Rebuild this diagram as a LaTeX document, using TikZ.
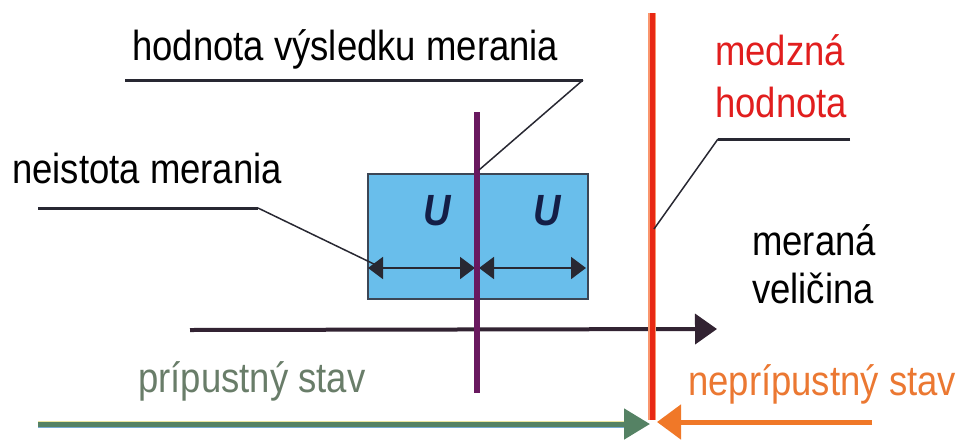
\documentclass[tikz,border=0pt]{standalone}
\usepackage{fontspec}
\setmainfont{Liberation Sans}
\usetikzlibrary{arrows.meta}
\newcommand{\vst}[1]{\scalebox{1}[1.15]{#1}}
\definecolor{boxblue}{RGB}{105,190,235}
\definecolor{boxedge}{RGB}{60,70,85}
\definecolor{ulabel}{RGB}{20,30,70}
\definecolor{leader}{RGB}{40,40,50}
\definecolor{axiscol}{RGB}{50,35,50}
\definecolor{purplecol}{RGB}{105,25,95}
\definecolor{redcol}{RGB}{232,40,20}
\definecolor{rededge}{RGB}{250,150,110}
\definecolor{redtext}{RGB}{225,30,30}
\definecolor{orangecol}{RGB}{240,120,40}
\definecolor{orangetext}{RGB}{235,120,50}
\definecolor{greencol}{RGB}{85,130,100}
\definecolor{greentext}{RGB}{105,125,105}
\definecolor{paleyellow}{RGB}{235,230,160}
\definecolor{paleblue}{RGB}{120,170,210}
\tikzset{
  lbl/.style={inner sep=0pt, anchor=base west, font=\fontsize{36.5}{40}\selectfont},
  ulbl/.style={inner sep=0pt, anchor=base, text=ulabel, font=\fontsize{38}{40}\selectfont\bfseries\itshape},
  leaderh/.style={draw=leader, line width=3pt},
  leaderd/.style={draw=leader, line width=1.5pt},
  dimarrow/.style={draw=leader, line width=2pt, {Triangle[length=15pt,width=22pt]}-{Triangle[length=15pt,width=22pt]}},
}
\begin{document}
\begin{tikzpicture}[x=1pt,y=-1pt]
\useasboundingbox (0,0) rectangle (964,440);
% uncertainty box
\node[draw=boxedge, line width=2pt, fill=boxblue, minimum width=220pt, minimum height=125pt, inner sep=0pt, anchor=north west] (box) at (367,173) {};
\node[ulbl] (u1) at (437,225) {\vst{U}};
\node[ulbl] (u2) at (547,225) {\vst{U}};
\coordinate (aL) at (368,268);
\coordinate (aM1) at (475,268);
\coordinate (aM2) at (479,268);
\coordinate (aR) at (586,268);
\draw[dimarrow] (aL) -- (aM1);
\draw[dimarrow] (aM2) -- (aR);
% measured quantity axis
\coordinate (ax0) at (190,330);
\coordinate (ax1) at (717,329);
\draw[draw=axiscol, line width=4pt, -{Triangle[length=22pt,width=30pt]}] (ax0) -- (ax1);
% result value line
\coordinate (pTop) at (477,112);
\coordinate (pBot) at (477,393);
\draw[purplecol, line width=6.5pt] (pTop) -- (pBot);
% limit value line
\coordinate (rTop) at (652,13);
\coordinate (rBot) at (652,420);
\draw[rededge, line width=8pt] (rTop) -- (rBot);
\draw[redcol, line width=5pt] (rTop) -- (rBot);
% labels
\node[lbl] (hvm) at (132,60) {\vst{hodnota výsledku merania}};
\node[lbl] (nm) at (12,183) {\vst{neistota merania}};
\node[lbl, text=redtext] (mz1) at (715,65) {\vst{medzná}};
\node[lbl, text=redtext] (mz2) at (715,117) {\vst{hodnota}};
\node[lbl] (mv1) at (752,255) {\vst{meraná}};
\node[lbl] (mv2) at (752,303) {\vst{veličina}};
\node[lbl, text=greentext] (ps) at (138,392) {\vst{prípustný stav}};
\node[lbl, text=orangetext] (nps) at (688,395) {\vst{neprípustný stav}};
% leader lines
\coordinate (h0) at (125,80);
\coordinate (h1) at (583,80);
\coordinate (h2) at (479,170);
\draw[leaderh] (h0) -- (h1);
\draw[leaderd] (h1) -- (h2);
\coordinate (n0) at (38,208);
\coordinate (n1) at (258,208);
\coordinate (n2) at (378,266);
\draw[leaderh] (n0) -- (n1);
\draw[leaderd] (n1) -- (n2);
\coordinate (m0) at (850,139);
\coordinate (m1) at (718,139);
\coordinate (m2) at (654,229);
\draw[leaderh] (m0) -- (m1);
\draw[leaderd] (m1) -- (m2);
% admissible / inadmissible states
\coordinate (g0) at (38,424);
\coordinate (g1) at (650,424);
\draw[paleyellow, line width=1pt] (38,421) -- (630,421);
\draw[paleblue, line width=1pt] (38,427) -- (630,427);
\draw[greencol, line width=5pt, -{Triangle[length=26pt,width=30pt]}] (g0) -- (g1);
\coordinate (o0) at (872,422);
\coordinate (o1) at (657,422);
\draw[orangecol, line width=5pt, -{Triangle[length=24pt,width=34pt]}] (o0) -- (o1);
\end{tikzpicture}
\end{document}
